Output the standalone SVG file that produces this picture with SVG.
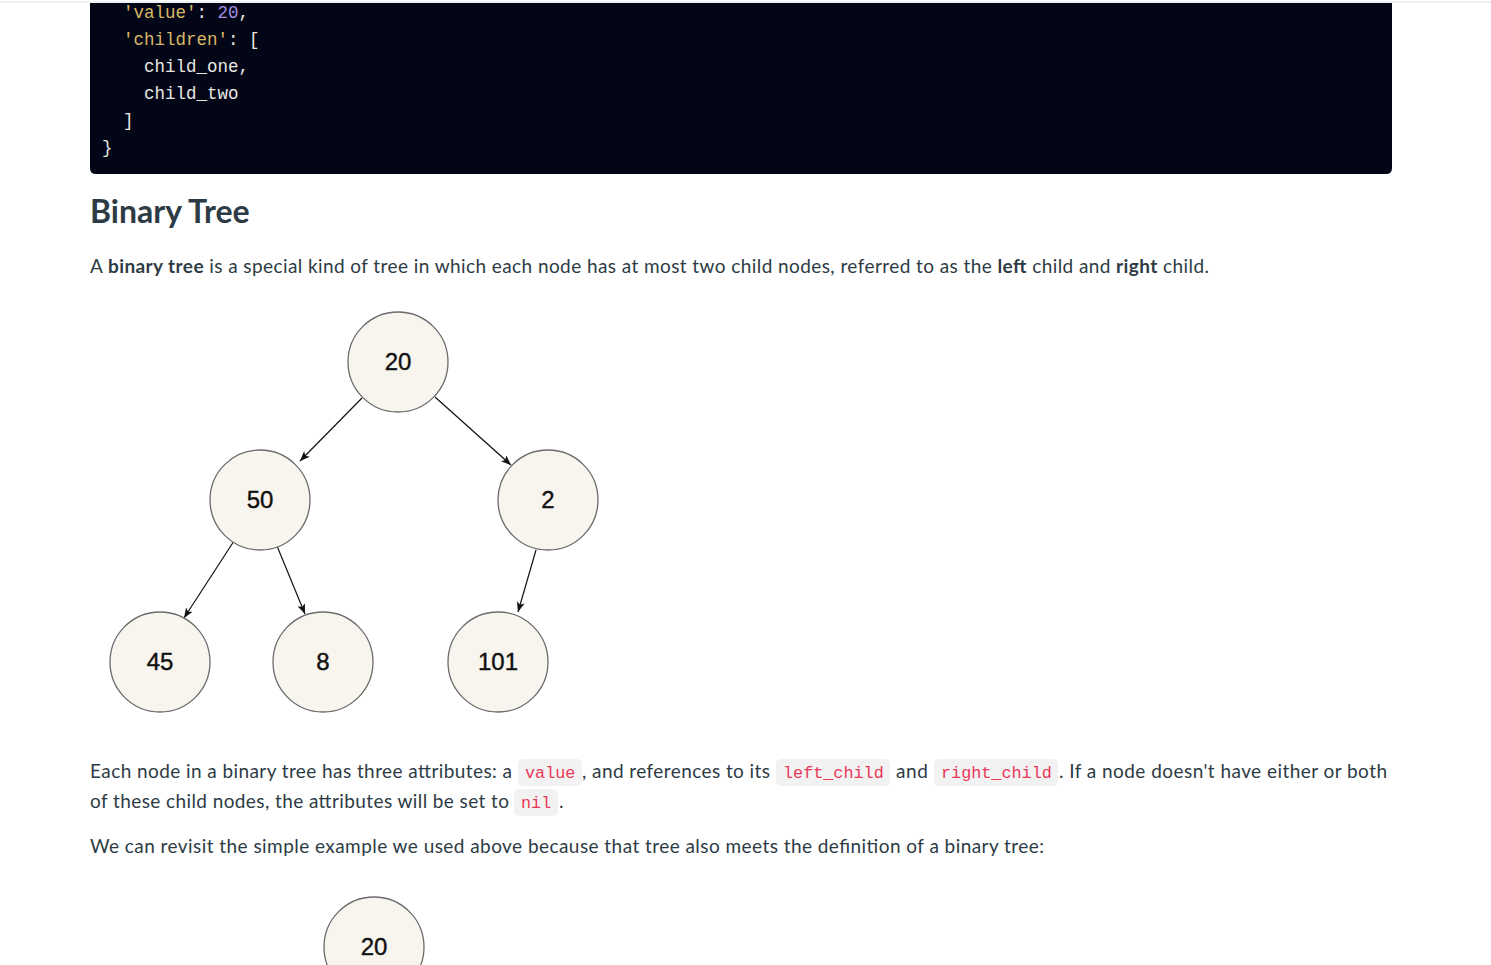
<svg xmlns="http://www.w3.org/2000/svg" width="1491" height="965" viewBox="0 0 1491 965">
  <style>
    .mono { font-family: "Liberation Mono", "DejaVu Sans Mono", monospace; }
    .code { font-size: 17.5px; fill: #e8e8e2; }
    .str { fill: #d8b866; }
    .num { fill: #a58ee0; }
    .body { font-family: Lato, "Liberation Sans", sans-serif; font-size: 19px; fill: #2d3b45; }
    .b { font-weight: bold; }
    .h2 { font-family: Lato, "Liberation Sans", sans-serif; font-size: 32px; font-weight: bold; fill: #2d3b45; }
    .chip { fill: #f2f2f2; }
    .inl { font-size: 16.8px; fill: #e8385a; }
    .node circle { fill: #f7f5ee; stroke: #6b6b6b; stroke-width: 1.3; }
    .node text { font-family: "Liberation Sans", Arial, sans-serif; font-size: 24px; fill: #111; stroke: #111; stroke-width: 0.4; text-anchor: middle; }
    .edge { stroke: #111; stroke-width: 1.2; fill: none; marker-end: url(#arrow); }
  </style>
  <defs>
    <marker id="arrow" markerWidth="11" markerHeight="8" refX="10" refY="4" orient="auto" markerUnits="userSpaceOnUse">
      <path d="M0,0 L10,4 L0,8 L2.5,4 z" fill="#111"/>
    </marker>
  </defs>

  <rect width="1491" height="965" fill="#ffffff"/>
  <line x1="0" y1="2" x2="1491" y2="2" stroke="#dde6ea" stroke-width="1"/>

  <!-- code block -->
  <g id="code-block">
    <path d="M90,3 H1392 V168 Q1392,174 1386,174 H96 Q90,174 90,168 Z" fill="#030617"/>
    <g class="mono code">
      <text x="123" y="18"><tspan class="str">'value'</tspan>: <tspan class="num">20</tspan>,</text>
      <text x="123" y="45"><tspan class="str">'children'</tspan>: [</text>
      <text x="144" y="72">child_one,</text>
      <text x="144" y="99">child_two</text>
      <text x="123" y="126">]</text>
      <text x="102" y="153">}</text>
    </g>
  </g>

  <text class="h2" x="90" y="223">Binary Tree</text>
  <text class="body" x="90" y="273" textLength="1119" lengthAdjust="spacing">A <tspan class="b">binary tree</tspan> is a special kind of tree in which each node has at most two child nodes, referred to as the <tspan class="b">left</tspan> child and <tspan class="b">right</tspan> child.</text>

  <!-- connectors -->
  <g id="edges">
    <line class="edge" x1="362" y1="398" x2="300" y2="461"/>
    <line class="edge" x1="435" y1="397" x2="511" y2="465"/>
    <line class="edge" x1="234" y1="541" x2="184" y2="618"/>
    <line class="edge" x1="277" y1="546" x2="305" y2="614"/>
    <line class="edge" x1="536" y1="550" x2="518" y2="612"/>
  </g>

  <g id="node-20" class="node"><circle cx="398" cy="362" r="50"/><text x="398" y="370">20</text></g>
  <g id="node-50" class="node"><circle cx="260" cy="500" r="50"/><text x="260" y="508">50</text></g>
  <g id="node-2" class="node"><circle cx="548" cy="500" r="50"/><text x="548" y="508">2</text></g>
  <g id="node-45" class="node"><circle cx="160" cy="662" r="50"/><text x="160" y="670">45</text></g>
  <g id="node-8" class="node"><circle cx="323" cy="662" r="50"/><text x="323" y="670">8</text></g>
  <g id="node-101" class="node"><circle cx="498" cy="662" r="50"/><text x="498" y="670">101</text></g>

  <!-- attributes paragraph -->
  <g id="attributes-text">
    <rect class="chip" x="518" y="759" width="64" height="27" rx="5"/>
    <rect class="chip" x="776" y="759" width="114" height="27" rx="5"/>
    <rect class="chip" x="934" y="759" width="124" height="27" rx="5"/>
    <rect class="chip" x="514" y="789" width="44" height="27" rx="5"/>
    <text class="body" x="90" y="778" textLength="422" lengthAdjust="spacing">Each node in a binary tree has three attributes: a</text>
    <text class="mono inl" x="525" y="778">value</text>
    <text class="body" x="582" y="778" textLength="188" lengthAdjust="spacing">, and references to its</text>
    <text class="mono inl" x="783" y="778">left_child</text>
    <text class="body" x="896" y="778" textLength="32" lengthAdjust="spacing">and</text>
    <text class="mono inl" x="941" y="778">right_child</text>
    <text class="body" x="1059" y="778" textLength="328" lengthAdjust="spacing">. If a node doesn't have either or both</text>
    <text class="body" x="90" y="808" textLength="419" lengthAdjust="spacing">of these child nodes, the attributes will be set to</text>
    <text class="mono inl" x="521" y="808">nil</text>
    <text class="body" x="559" y="808">.</text>
  </g>

  <text class="body" x="90" y="853" textLength="954" lengthAdjust="spacing">We can revisit the simple example we used above because that tree also meets the definition of a binary tree:</text>

  <g id="node-20-b" class="node"><circle cx="374" cy="947" r="50"/><text x="374" y="955">20</text></g>
</svg>
